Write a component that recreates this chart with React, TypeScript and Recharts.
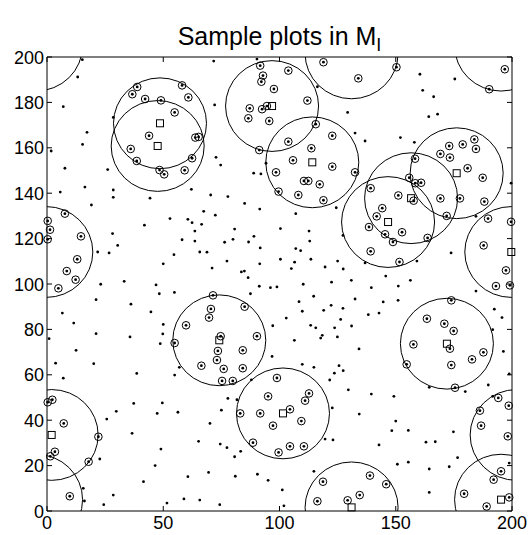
import React from 'react';
import { ScatterChart, Scatter, XAxis, YAxis, ReferenceArea } from 'recharts';

// trees not inside any sample plot
const otherTrees: number[][] = [
  [15.2, 198.8], [13.2, 191.2], [7.0, 178.1], [28.5, 173.4], [17.2, 166.8], [15.3, 161.5], [1.8, 158.6],
  [7.7, 151], [26.1, 150.4], [16.3, 142.7], [5.7, 140.5], [28.5, 141.4], [28.5, 138.2], [19.1, 134.8], [44.3, 137.8],
  [71.7, 198.2], [90.3, 199.1], [72.1, 178.9], [72.7, 155.8], [74.7, 152.4], [94.2, 153.2], [88.9, 148.8],
  [92, 148.5], [62.1, 141.7], [70.4, 139.2], [77.8, 138.5], [85, 135.5], [91.5, 133],
  [116.3, 186.9], [129.3, 175.6], [132.5, 166.5], [136.8, 163], [124.4, 133.6],
  [160.4, 192.4], [175.4, 190.3], [161.6, 185.3], [166.3, 182.5], [164.2, 173.7], [168, 174.8], [152, 164.5],
  [158, 162.4], [199.6, 144.4],
  [52.9, 128.8], [41.9, 125.9], [66.5, 126.3], [63.6, 123.3], [28.2, 122.2], [63.6, 118.9], [30.4, 117],
  [21.8, 114.1], [26.7, 113.7], [65.7, 114.1], [50, 108.9], [23.1, 99.9], [33.2, 101.2], [46.9, 99.6],
  [48.3, 95.7], [21.1, 93.1], [36.1, 91.1], [44.7, 87.7], [6.6, 87.2], [11.5, 82.8], [50, 82.2], [0.9, 75.9],
  [21.1, 78.1], [35.7, 76.7], [49.8, 78], [48.7, 73.7], [12.5, 70.8],
  [67.4, 132], [72.4, 130.3], [60.6, 128.5], [62.4, 127], [80.7, 124.2], [100.4, 124.4], [58.1, 119.5],
  [76.4, 118.4], [80, 119.7], [86.7, 118.5], [89, 121], [91.7, 115.9], [68.8, 114], [54.6, 112.9], [77.4, 110.1],
  [91.5, 108.9], [100.4, 110.9], [71, 107], [83.6, 105.3], [84.9, 105.7], [86.5, 102.8], [91.3, 99], [96.1, 98.4],
  [98.9, 98.7], [54.8, 96.3], [87.5, 95.7], [97.1, 81.6], [96.8, 68.1],
  [107, 131], [112.7, 123.3], [113, 118.9], [127.3, 121.4], [107, 115.6], [109.1, 114.7], [106.5, 109.6],
  [113.5, 110.9], [105.1, 106.8], [119.6, 107.5], [125, 110.1], [127.4, 106.6], [136.8, 109.3], [145.7, 103.5],
  [151.1, 99.1], [110.2, 99.9], [122.4, 100.8], [130.9, 101.6], [139.5, 98.4], [114.7, 94.6], [108.4, 92.2],
  [132.5, 93.4], [122.2, 90.6], [144.6, 92.1], [151, 92.8], [109.8, 88], [119, 88.4], [127.3, 89.3], [102.9, 85],
  [138.2, 86.5], [142.8, 87.2], [126.3, 84.4], [113.4, 81.8], [115.6, 80.7], [123.7, 80.7], [131, 81.5],
  [118.4, 77.4], [117.7, 76.2], [124.9, 76.7], [106.4, 75.2], [134.2, 71.4],
  [184.5, 129.8], [159.1, 110.1], [173.8, 113.7], [156.3, 101.6], [184.5, 96.9], [192.4, 88.9], [195.7, 85.2],
  [191.7, 79.9], [196.3, 70.3],
  [3.7, 65.1], [20.1, 64.9], [7, 58.5], [38.6, 60.6], [37.3, 47.4], [49.6, 47.6], [29.8, 43.9], [25.7, 40.5],
  [47.4, 43], [36.6, 34.2], [49, 27.3], [22.7, 22.9], [46.5, 20], [41.5, 12.9], [15.6, 10], [28.5, 7], [16.1, 4.4],
  [24.4, 2.8],
  [56.9, 63.3], [54.9, 59.9], [87.9, 57.8], [77.8, 49.6], [81.7, 49], [56.3, 43.5], [75, 44.4], [70.1, 38.6],
  [65.2, 30.7], [74.5, 29.5], [77.4, 27.9], [83.3, 26.3], [80.7, 23.9], [69.5, 17], [60.6, 15.1], [81, 15.3],
  [90.5, 16.2], [95.1, 13.5], [58.9, 5.3], [51.6, 3.5], [65.7, 4.8], [74.3, 2.8],
  [109.8, 64.6], [114.8, 63.3], [125.6, 64], [123.6, 60.7], [127.4, 61.8], [121.6, 57.7], [129.6, 53.4],
  [139.5, 51.5], [149.2, 50.5], [122.7, 45.4], [134.3, 42.7], [150, 39.6], [148.3, 35.4], [119.6, 31.7],
  [123, 31.3], [142.8, 29.1], [150.7, 20.6], [114.8, 17.5], [101.2, 9.3], [101.9, 2.3],
  [164.4, 54.5], [179.9, 52.6], [189.8, 55.5], [198.8, 60.4], [191.7, 50.5], [155.4, 35.5], [174.8, 34.9],
  [163, 30.3], [167, 30.5], [198.8, 21.1], [155.4, 21.5], [176.6, 23.5], [173, 19.5], [164.4, 18.5], [164.4, 8.2],
];

// trees that fall inside a sample plot (drawn circled)
const sampledTrees: number[][] = [
  [38.8, 186.8], [36.7, 183.6], [42.2, 181.5], [49.0, 180.9], [43.9, 165.3], [36.0, 159.5], [38.6, 154.2],
  [48.4, 150.2], [50.4, 148.3],
  [58.1, 187.5], [60.8, 182.2], [54.9, 175.6], [91.7, 196.2], [92.9, 191.8], [92.2, 189.1], [97.6, 185.9],
  [87.2, 177.4], [86.6, 173], [92.5, 177], [94.6, 178.4], [95.6, 171.8], [63.8, 164.5], [65.2, 164.8],
  [62.4, 155.4], [59.2, 150.1], [91.3, 159], [98.5, 149.2], [99.6, 140.7],
  [118.9, 197.7], [103.8, 194], [150.3, 195.5], [133.9, 190.6], [112, 180.8], [115.6, 170.4], [122.7, 165.3],
  [103.8, 162.7], [113.7, 159.8], [105.8, 154.5], [122.7, 151.7], [132.5, 149.2], [110.5, 145.4], [112.4, 145.4],
  [117.3, 143.9], [108.1, 139.2], [118.9, 136.9], [139.2, 142.2], [151.1, 139], [144.2, 133.4],
  [196.9, 194.6], [190.2, 185.8], [183.8, 163.7], [178.8, 161.5], [173, 160.8], [184.5, 159.5], [169.2, 157.3],
  [173.3, 155.7], [158.3, 155.2], [180.9, 151], [187.4, 146.8], [155.8, 146.8], [158.4, 144.4], [160.9, 144.6],
  [157.7, 136.7], [169.2, 137.7], [177.6, 137.7], [188.1, 136.3],
  [7.7, 131], [0.3, 127.8], [1.3, 123.9], [0.3, 119.7], [14.6, 121], [13, 110.9], [8.5, 105.7], [12.3, 101.9],
  [4.9, 98.1],
  [71.4, 95], [70.5, 89], [85, 90], [69.7, 85.2], [59.8, 81.8], [54.9, 74], [74.7, 77], [90.3, 77], [73.5, 70.5],
  [84.2, 70.8], [73.1, 66.5],
  [138.5, 125.1], [141.8, 129.8], [145.4, 121.9], [148.8, 118.5], [139.2, 114.4], [151.6, 109.7],
  [171.9, 130], [189.7, 128.8], [199.6, 127.4], [152.7, 122.8], [163.7, 120.3], [187.8, 117], [197.4, 106],
  [193.1, 99.1], [199.1, 99.4], [173.9, 92.8], [163.4, 84.7], [170.9, 82.5], [174.9, 79.3], [157.6, 73.4],
  [173.3, 71.5], [187.7, 69.9], [182.8, 66.8],
  [2.3, 49], [0.3, 47.9], [7.2, 38.6], [22.1, 32.7], [3.4, 26.1], [1.4, 24.1], [17.9, 21.7], [9.8, 6.5],
  [66.4, 64], [76, 62.6], [84.2, 62.9], [75.3, 57.3], [79.9, 57.3], [98.9, 58.6], [95.1, 50.5], [83.1, 43],
  [91.7, 43], [97.2, 37.6], [88.6, 30.1], [99.6, 25.8],
  [112.7, 51.8], [111, 48.6], [104.5, 44.8], [109.4, 39.6], [104.5, 28.5], [110.5, 28.5], [118.7, 12.9],
  [138.9, 15.6], [145.9, 11.8], [134.5, 7], [129.3, 4.7], [116.3, 4.3],
  [154.7, 64.6], [173.9, 64.3], [175.5, 54.3], [194.1, 49.8], [198.6, 46.4], [186.2, 44.2], [186.7, 37.6],
  [198.2, 32.9], [195.3, 17.5], [192.1, 13.8], [179.4, 7.6], [198.8, 6], [189.1, 2],
];

// sample plot centres (squares)
const plotCentres: number[][] = [
  [48.6, 170.8], [47.6, 160.8], [96.8, 178.4], [114.1, 153.6], [176.2, 148.8], [156.6, 137.8], [199.7, 114.1],
  [146.7, 127.3], [172, 73.7], [74.1, 75.2], [101.5, 43], [131, 1.6], [195.3, 5], [2, 33.5],
];

// plot outlines, including the copies wrapped round the torus edges
const plotOutlines: number[][] = [
  [48.6, 170.8], [47.6, 160.8], [96.8, 178.4], [114.1, 153.6], [176.2, 148.8], [156.6, 137.8], [199.7, 114.1],
  [-0.3, 114.1], [146.7, 127.3], [172, 73.7], [74.1, 75.2], [101.5, 43], [131, 1.6], [131, 201.6], [195.3, 5],
  [-4.7, 5], [195.3, 205], [-4.7, 205], [2, 33.5], [202, 33.5],
];

const xTicks = [0, 50, 100, 150, 200];
const yTicks = [0, 20, 40, 60, 80, 100, 120, 140, 160, 180, 200];
const PLOT_RADIUS = 20;

const toPts = (a: number[][]) => a.map(([x, y]) => ({ x, y }));

const W = 528;
const H = 535;
const LEFT = 47;
const RIGHT = 512;
const TOP = 57;
const BOTTOM = 511;
const TICK = 5;
const FONT = '"Liberation Sans", Arial, sans-serif';

const rx = (PLOT_RADIUS / 200) * (RIGHT - LEFT);
const ry = (PLOT_RADIUS / 200) * (BOTTOM - TOP);

const XTick = ({ x, payload }: any) => (
  <g>
    <line x1={x} x2={x} y1={BOTTOM} y2={BOTTOM - TICK} stroke="#000" />
    <line x1={x} x2={x} y1={TOP} y2={TOP + TICK} stroke="#000" />
    <text x={x} y={BOTTOM + 18} textAnchor="middle" fontSize={18} fontFamily={FONT} fill="#000">
      {payload.value}
    </text>
  </g>
);

const YTick = ({ y, payload }: any) => (
  <g>
    <line x1={LEFT} x2={LEFT + TICK} y1={y} y2={y} stroke="#000" />
    <line x1={RIGHT} x2={RIGHT - TICK} y1={y} y2={y} stroke="#000" />
    <text x={LEFT - 3} y={y + 6.5} textAnchor="end" fontSize={18} fontFamily={FONT} fill="#000">
      {payload.value}
    </text>
  </g>
);

const Outline = ({ cx, cy }: any) => (
  <ellipse cx={cx} cy={cy} rx={rx} ry={ry} fill="none" stroke="#000" strokeWidth={1} />
);
const Ring = ({ cx, cy }: any) => <circle cx={cx} cy={cy} r={3.8} fill="none" stroke="#000" strokeWidth={1} />;
const Dot = ({ cx, cy }: any) => <circle cx={cx} cy={cy} r={1.4} fill="#000" />;
const Square = ({ cx, cy }: any) => (
  <rect x={cx - 3.5} y={cy - 3.5} width={7} height={7} fill="none" stroke="#000" strokeWidth={1} />
);

export default function App() {
  return (
    <div style={{ position: 'absolute', left: 0, top: 0, width: W, height: H, background: '#fff' }}>
      <div
        style={{
          position: 'absolute',
          left: LEFT,
          width: RIGHT - LEFT,
          top: 23,
          textAlign: 'center',
          fontFamily: FONT,
          fontSize: 25,
          lineHeight: '26px',
          color: '#000',
        }}
      >
        Sample plots in M<sub style={{ fontSize: 18, verticalAlign: -6, lineHeight: 0 }}>I</sub>
      </div>
      <ScatterChart width={W} height={H} margin={{ top: TOP, right: W - RIGHT, bottom: 0, left: 0 }}>
        <XAxis
          type="number"
          dataKey="x"
          domain={[0, 200]}
          ticks={xTicks}
          allowDataOverflow
          height={H - BOTTOM}
          tickLine={false}
          axisLine={false}
          tick={<XTick />}
        />
        <YAxis
          type="number"
          dataKey="y"
          domain={[0, 200]}
          ticks={yTicks}
          allowDataOverflow
          width={LEFT}
          tickLine={false}
          axisLine={false}
          tick={<YTick />}
        />
        <XAxis xAxisId="m" type="number" dataKey="x" domain={[0, 200]} hide />
        <YAxis yAxisId="m" type="number" dataKey="y" domain={[0, 200]} hide />
        <ReferenceArea x1={0} x2={200} y1={0} y2={200} fill="none" stroke="#000" strokeWidth={1} />
        <Scatter data={toPts(plotOutlines)} shape={<Outline />} isAnimationActive={false} />
        <Scatter xAxisId="m" yAxisId="m" data={toPts(sampledTrees)} shape={<Ring />} isAnimationActive={false} />
        <Scatter xAxisId="m" yAxisId="m" data={toPts(sampledTrees)} shape={<Dot />} isAnimationActive={false} />
        <Scatter xAxisId="m" yAxisId="m" data={toPts(otherTrees)} shape={<Dot />} isAnimationActive={false} />
        <Scatter xAxisId="m" yAxisId="m" data={toPts(plotCentres)} shape={<Square />} isAnimationActive={false} />
      </ScatterChart>
    </div>
  );
}
